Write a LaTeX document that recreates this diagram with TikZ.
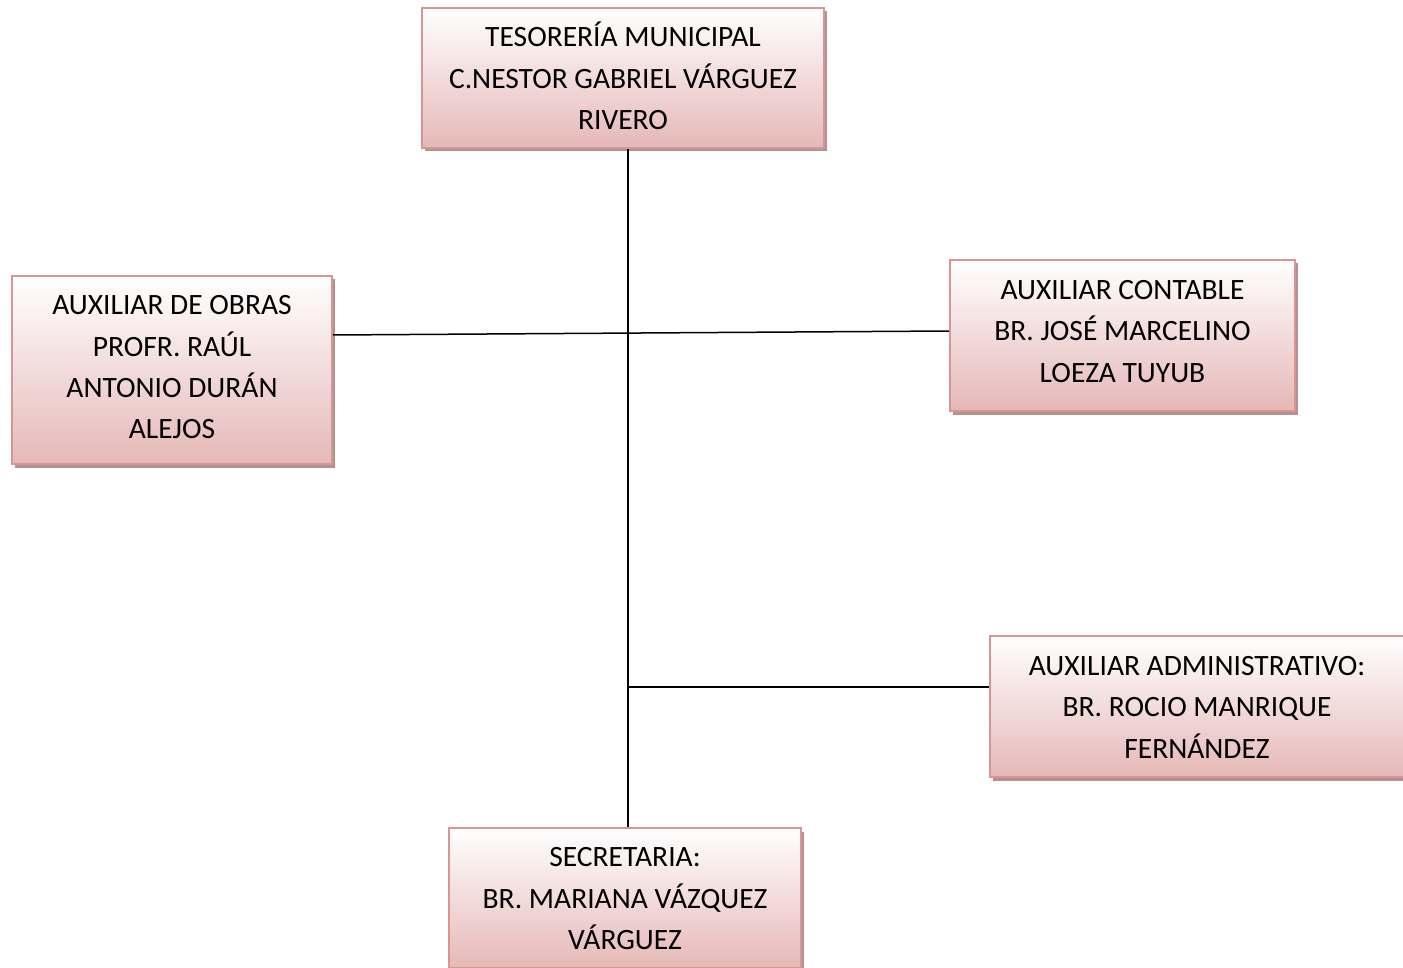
\documentclass[tikz,border=0pt]{standalone}
\usepackage{fontspec}
\setmainfont{Carlito}
\usetikzlibrary{shadows}
\definecolor{boxborder}{RGB}{217,149,148}
\definecolor{boxbottom}{RGB}{229,184,183}
\definecolor{boxshadow}{RGB}{180,145,145}
\newcommand{\boxlines}[2]{\raisebox{#1}[\height][\depth]{\begin{tabular}{@{}c@{}}#2\end{tabular}}}
\tikzset{
  x=1pt, y=1pt,
  orgbox/.style={draw=boxborder, line width=1.6pt, top color=white, bottom color=boxbottom,
    inner sep=0pt, font=\fontsize{29.5}{41.3}\selectfont,
    drop shadow={shadow xshift=3pt, shadow yshift=-3.5pt, fill=boxshadow, opacity=1}},
  link/.style={line width=1.5pt, black}
}
\begin{document}
\begin{tikzpicture}
\useasboundingbox (0,0) rectangle (1403,-968);
\node[orgbox, minimum width=402pt, minimum height=140pt] (top) at (623,-78)
  {\boxlines{-2pt}{TESORERÍA MUNICIPAL\\C.NESTOR GABRIEL VÁRGUEZ\\RIVERO}};
\node[orgbox, minimum width=320pt, minimum height=188pt] (left) at (172,-370)
  {\boxlines{1.5pt}{AUXILIAR DE OBRAS\\PROFR. RAÚL\\ANTONIO DURÁN\\ALEJOS}};
\node[orgbox, minimum width=345pt, minimum height=151pt] (right) at (1122.5,-335.5)
  {\boxlines{3pt}{AUXILIAR CONTABLE\\BR. JOSÉ MARCELINO\\LOEZA TUYUB}};
\node[orgbox, minimum width=414pt, minimum height=141pt] (admin) at (1197,-706.5)
  {\boxlines{-2pt}{AUXILIAR ADMINISTRATIVO:\\BR. ROCIO MANRIQUE\\FERNÁNDEZ}};
\node[orgbox, minimum width=352pt, minimum height=140pt] (sec) at (625,-898)
  {\boxlines{-2pt}{SECRETARIA:\\BR. MARIANA VÁZQUEZ\\VÁRGUEZ}};
\coordinate (spine) at (628,-333);
\coordinate (ladm) at (628,-687);
\draw[link] (top.south -| spine) -- (sec.north -| spine);
\draw[link] (left.east |- 0,-335) -- (right.west |- 0,-331);
\draw[link] (ladm) -- (admin.west |- ladm);
\end{tikzpicture}
\end{document}
